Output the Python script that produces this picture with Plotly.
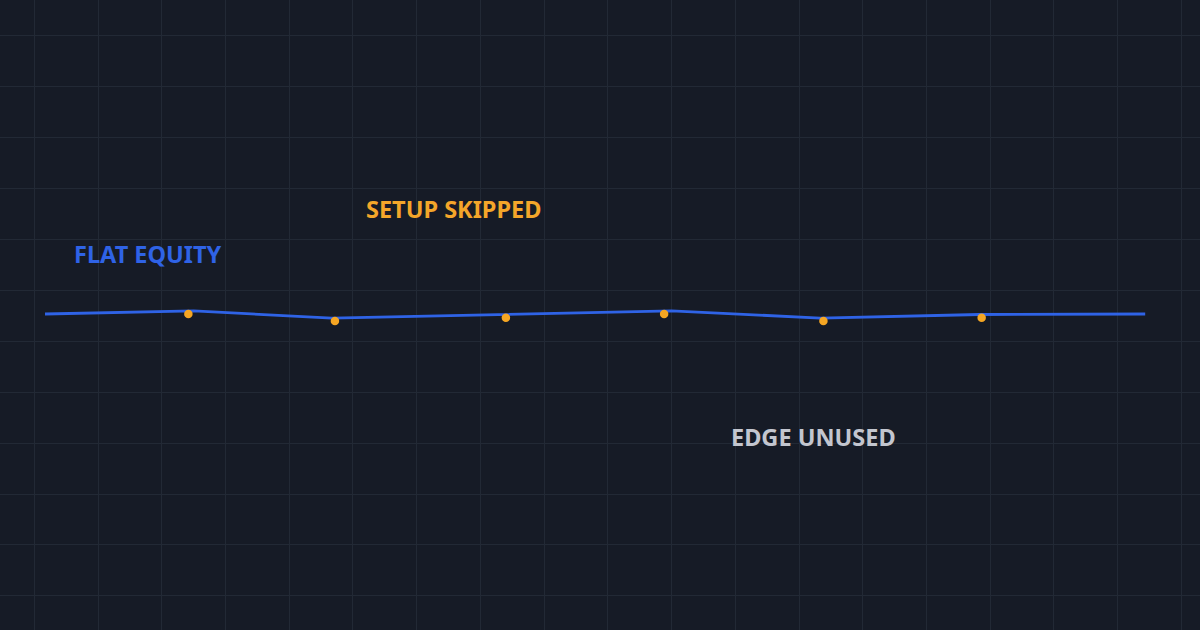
import plotly.graph_objects as go

# Equity curve (trading day, equity)
line_days = [0, 14, 27, 44, 59, 73, 88, 103.6]
line_equity = [10000, 10030, 9960, 9995, 10030, 9960, 9995, 10000]

# Skipped setups (trading day, equity)
skip_days = [13.5, 27.3, 43.4, 58.3, 73.3, 88.2]
skip_equity = [10000, 9931, 9962, 10000, 9931, 9962]

labels = ["FLAT EQUITY", "SETUP SKIPPED", "EDGE UNUSED"]
label_days = [9.7, 38.5, 72.4]
label_equity = [10590, 11030, 8790]
label_colors = ["#2f63e6", "#f4a62a", "#c3c6cf"]

BG = "#161b26"
GRID = "#222935"

fig = go.Figure()
fig.add_trace(go.Scatter(
    x=line_days, y=line_equity, mode="lines",
    line=dict(color="#2f63e6", width=2.8),
    hoverinfo="skip", showlegend=False,
))
fig.add_trace(go.Scatter(
    x=skip_days, y=skip_equity, mode="markers",
    marker=dict(color="#f5a623", size=8.5),
    hoverinfo="skip", showlegend=False,
))

for t, xd, yd, c in zip(labels, label_days, label_equity, label_colors):
    fig.add_annotation(
        x=xd, y=yd, text=f"<b>{t}</b>", showarrow=False,
        xref="x", yref="y",
        font=dict(family="Noto Sans", size=23.5, color=c),
    )

fig.update_layout(
    width=1200, height=630,
    margin=dict(l=0, r=0, t=0, b=0),
    paper_bgcolor=BG, plot_bgcolor=BG,
    showlegend=False,
)
fig.update_xaxes(
    range=[-4.237, 108.76], showgrid=True, gridcolor=GRID, gridwidth=1,
    tick0=53, dtick=6, showticklabels=False, zeroline=False, showline=False,
    ticks="",
)
fig.update_yaxes(
    range=[6896, 13084], showgrid=True, gridcolor=GRID, gridwidth=1,
    tick0=10231, dtick=500, showticklabels=False, zeroline=False, showline=False,
    ticks="",
)

fig.write_html(
    "out.html",
    config={"displayModeBar": False},
    post_script="document.body.style.margin='0';document.body.style.overflow='hidden';document.body.style.background='#161b26';",
)
